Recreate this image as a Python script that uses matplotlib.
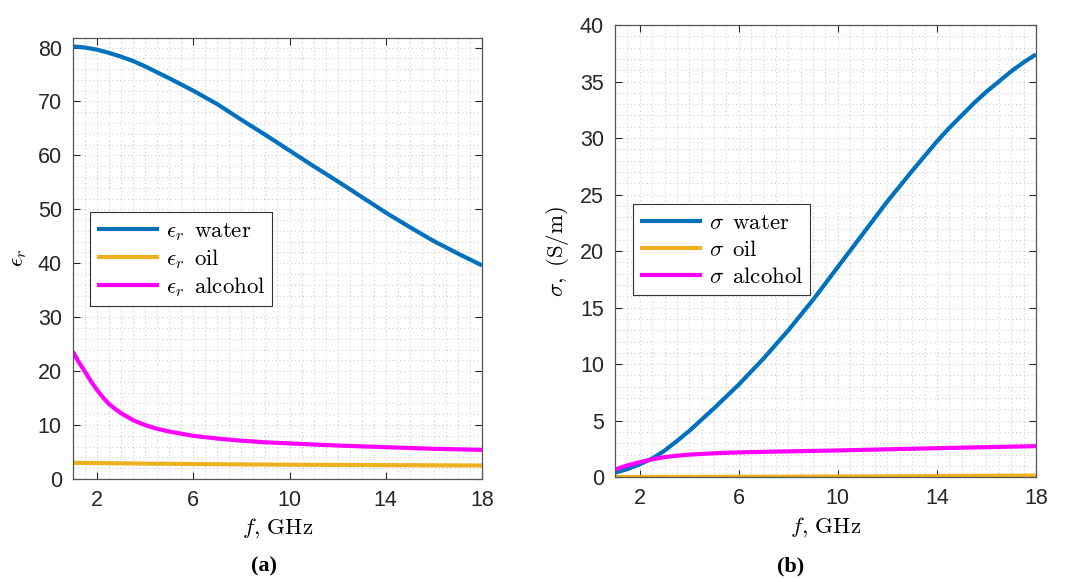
import matplotlib
matplotlib.use('Agg')
import matplotlib.pyplot as plt
from matplotlib.ticker import MultipleLocator

plt.rcParams['mathtext.fontset'] = 'cm'
plt.rcParams['font.family'] = ['Liberation Sans', 'DejaVu Sans']

# panel (a): relative permittivity
f_eps_w = [1, 1.5, 2, 2.5, 3, 3.5, 4, 5, 6, 7, 8, 9, 10, 11, 12, 13, 14, 15, 16, 17, 18]
eps_water = [80.2, 80.0, 79.6, 79.0, 78.3, 77.5, 76.5, 74.3, 72.0, 69.5, 66.6, 63.8,
             60.9, 58.0, 55.2, 52.3, 49.4, 46.7, 44.1, 41.8, 39.6]
f_eps_o = [1, 4, 8, 12, 18]
eps_oil = [3.0, 2.85, 2.7, 2.6, 2.5]
f_eps_a = [1, 1.25, 1.5, 1.75, 2, 2.25, 2.5, 2.75, 3, 3.5, 4, 4.5, 5, 5.5, 6, 7, 8,
           9, 10, 12, 14, 16, 18]
eps_alcohol = [23.6, 21.6, 19.9, 18.1, 16.5, 15.1, 13.9, 13.0, 12.2, 10.9, 10.0, 9.3,
               8.8, 8.4, 8.0, 7.5, 7.1, 6.8, 6.6, 6.2, 5.9, 5.6, 5.4]

# panel (b): conductivity, S/m
f_sig_w = [1, 1.5, 2, 2.5, 3, 3.5, 4, 4.5, 5, 5.5, 6, 6.5, 7, 7.5, 8, 8.5, 9, 9.5,
           10, 10.5, 11, 11.5, 12, 12.5, 13, 13.5, 14, 14.5, 15, 15.5, 16, 16.5,
           17, 17.5, 18]
sig_water = [0.4, 0.72, 1.15, 1.65, 2.35, 3.2, 4.1, 5.1, 6.1, 7.15, 8.2, 9.35, 10.5,
             11.75, 13.0, 14.35, 15.7, 17.15, 18.6, 20.05, 21.5, 22.95, 24.4, 25.75,
             27.1, 28.4, 29.7, 30.9, 32.0, 33.1, 34.1, 35.0, 35.9, 36.7, 37.4]
f_sig_o = [1, 6, 12, 18]
sig_oil = [0.02, 0.04, 0.08, 0.15]
f_sig_a = [1, 1.5, 2, 2.5, 3, 3.5, 4, 5, 6, 8, 10, 12, 14, 16, 18]
sig_alcohol = [0.68, 1.05, 1.33, 1.58, 1.78, 1.9, 2.0, 2.12, 2.2, 2.29, 2.37, 2.47,
               2.57, 2.66, 2.75]

c_blue = '#0072BD'
c_yellow = '#EDB120'
c_mag = '#FF00FF'
dark = '#262626'

fig = plt.figure(figsize=(10.78, 5.82), dpi=100)
ax1 = fig.add_axes([0.0677, 0.177, 0.3794, 0.758])
ax2 = fig.add_axes([0.5705, 0.180, 0.3905, 0.777])


def style(ax, ymax, ystep, yminor):
    ax.set_xlim(1, 18)
    ax.set_ylim(0, ymax)
    ax.set_xticks([2, 6, 10, 14, 18])
    ax.yaxis.set_major_locator(MultipleLocator(ystep))
    ax.xaxis.set_minor_locator(MultipleLocator(0.5))
    ax.yaxis.set_minor_locator(MultipleLocator(yminor))
    ax.grid(True, which='both', linestyle=(0, (1, 3)), color='#c4c4c4', linewidth=0.7)
    ax.set_axisbelow(True)
    ax.tick_params(which='major', direction='in', top=True, right=True,
                   length=5, width=0.8, color=dark, labelsize=15.5,
                   labelcolor=dark, pad=8)
    ax.tick_params(which='minor', length=0)
    for s in ax.spines.values():
        s.set_color('#555555')
        s.set_linewidth(0.9)


lw = 3.0
kw = dict(lw=lw, solid_joinstyle='round', solid_capstyle='butt')
ax1.plot(f_eps_w, eps_water, color=c_blue, label=r'$\epsilon_r\ \,\mathrm{water}$', **kw)
ax1.plot(f_eps_o, eps_oil, color=c_yellow, label=r'$\epsilon_r\ \,\mathrm{oil}$', **kw)
ax1.plot(f_eps_a, eps_alcohol, color=c_mag, label=r'$\epsilon_r\ \,\mathrm{alcohol}$', **kw)
style(ax1, 81.8, 10, 2)
ax1.set_xlabel(r'$f,\,\mathrm{GHz}$', fontsize=16.5, labelpad=4)
ax1.set_ylabel(r'$\epsilon_r$', fontsize=16.5, labelpad=6)

ax2.plot(f_sig_w, sig_water, color=c_blue, label=r'$\sigma\ \,\mathrm{water}$', **kw)
ax2.plot(f_sig_o, sig_oil, color=c_yellow, label=r'$\sigma\ \,\mathrm{oil}$', **kw)
ax2.plot(f_sig_a, sig_alcohol, color=c_mag, label=r'$\sigma\ \,\mathrm{alcohol}$', **kw)
style(ax2, 40, 5, 1)
ax2.set_xlabel(r'$f,\,\mathrm{GHz}$', fontsize=16.5, labelpad=4)
ax2.set_ylabel(r'$\sigma,\ \mathrm{(S/m)}$', fontsize=16.5, labelpad=6)

for ax, anchor in [(ax1, (0.0416, 0.605)), (ax2, (0.0428, 0.604))]:
    leg = ax.legend(loc='upper left', bbox_to_anchor=anchor, borderaxespad=0,
                    fontsize=16.5, handlelength=2.7, handletextpad=0.3,
                    labelspacing=0.18, borderpad=0.3, fancybox=False,
                    framealpha=1, edgecolor='#333333')
    leg.get_frame().set_linewidth(0.8)

fig.text(0.245, 0.018, '(a)', fontsize=16, fontweight='bold',
         family='Liberation Serif', ha='center')
fig.text(0.733, 0.018, '(b)', fontsize=16, fontweight='bold',
         family='Liberation Serif', ha='center')

fig.savefig('out.png', dpi=100)
